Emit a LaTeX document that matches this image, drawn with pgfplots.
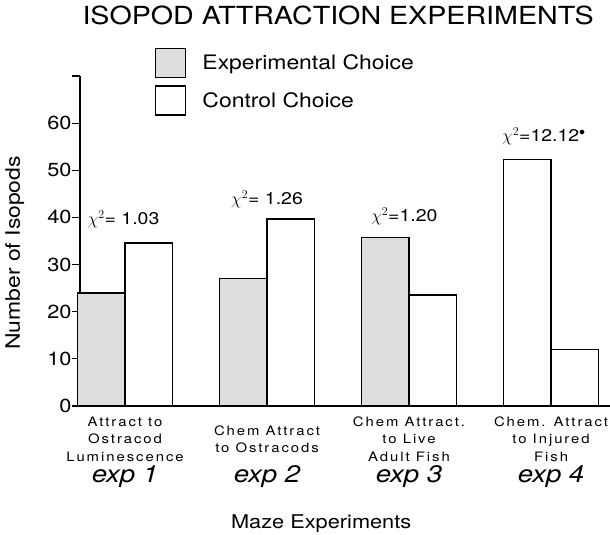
\documentclass[border=0pt]{standalone}
\usepackage{pgfplots}
\pgfplotsset{compat=1.18}
\usepackage{fontspec}
\setmainfont{TeX Gyre Heros}[FakeStretch=1.15]
\newfontfamily\descfam{TeX Gyre Heros}[FakeStretch=1.15, LetterSpace=15]
\definecolor{stip}{gray}{0.87}
\pgfplotsset{boxlegend/.style={legend image code/.code={\draw[##1, line width=1.3pt] (0bp,-14.5bp) rectangle (30bp,14.5bp);}}}
\newcommand{\xl}[2]{\begin{tabular}[t]{@{}c@{}}\parbox[t][52.5bp][c]{150bp}{\centering\descfam\fontsize{13}{17.5}\selectfont #1}\\[2bp]{\fontsize{24}{26}\selectfont\itshape #2}\end{tabular}}
\begin{document}
\begin{tikzpicture}[x=1bp,y=1bp]
\path[use as bounding box] (-80,-129) rectangle (530,406);
\begin{axis}[
  at={(0,0)}, anchor=south west,
  scale only axis, width=530bp, height=330bp,
  xmin=-0.317, xmax=3.415, ymin=0, ymax=70,
  axis x line=bottom, axis y line=left,
  axis line style={-, line width=1.5pt},
  ytick={0,10,...,70}, yticklabels={0,10,20,30,40,50,60,},
  tick align=outside, major tick length=8bp,
  y tick style={line width=1.2pt, black},
  xtick={0,1,2,3}, x tick style={draw=none},
  xticklabels={{\xl{Attract to\\Ostracod\\Luminescence}{exp 1}},
               {\xl{Chem\ Attract\\to Ostracods}{exp 2}},
               {\xl{Chem\ Attract.\\to Live\\Adult Fish}{exp 3}},
               {\xl{Chem. Attract\\to Injured\\Fish}{exp 4}}},
  xticklabel style={anchor=north, yshift=13bp},
  yticklabel style={font=\fontsize{19}{22}\selectfont, xshift=3bp},
  /pgf/number format/assume math mode=true,
  ylabel={Number of Isopods},
  ylabel style={font=\fontsize{20}{24}\selectfont, at={(axis description cs:-0.123,0.464)}, anchor=center},
  xlabel={Maze Experiments},
  xlabel style={font=\fontsize{19}{22}\selectfont, at={(axis description cs:0.455,-0.357)}, anchor=center},
  title={ISOPOD ATTRACTION EXPERIMENTS},
  title style={font=\fontsize{25}{28}\selectfont, at={(axis description cs:0.487,1.164)}, anchor=center},
  legend style={at={(axis description cs:0.1415,1.085)}, anchor=north west, draw=none, fill=none,
    font=\fontsize{20}{24}\selectfont, row sep=7bp, inner sep=0pt,
    /tikz/every odd column/.style={column sep=14bp}},
  legend cell align=left,
  clip=false,
]
\addplot[ybar, bar width=0.335, bar shift=0pt, fill=stip, draw=black, line width=1.5pt, boxlegend]
  coordinates {(-0.1675,24) (0.8325,27) (1.8325,35.7)};
\addlegendentry{Experimental Choice}
\addplot[ybar, bar width=0.335, bar shift=0pt, fill=white, draw=black, line width=1.5pt, boxlegend]
  coordinates {(0.1675,34.6) (1.1675,39.7) (2.1675,23.5) (3.1675,12)};
\addlegendentry{Control Choice}
\addplot[ybar, bar width=0.335, bar shift=0pt, fill=white, draw=black, line width=1.5pt, forget plot]
  coordinates {(2.8325,52.3)};
\node[font=\fontsize{17}{20}\selectfont] at (axis cs:-0.01,39.6) {$\chi^{2}$= 1.03};
\node[font=\fontsize{17}{20}\selectfont] at (axis cs:1.0,43.9) {$\chi^{2}$= 1.26};
\node[font=\fontsize{17}{20}\selectfont] at (axis cs:1.967,40.3) {$\chi^{2}$=1.20};
\node[font=\fontsize{17}{20}\selectfont] at (axis cs:2.95,57.2) {$\chi^{2}$=12.12$^{\bullet}$};
\end{axis}
\end{tikzpicture}
\end{document}
